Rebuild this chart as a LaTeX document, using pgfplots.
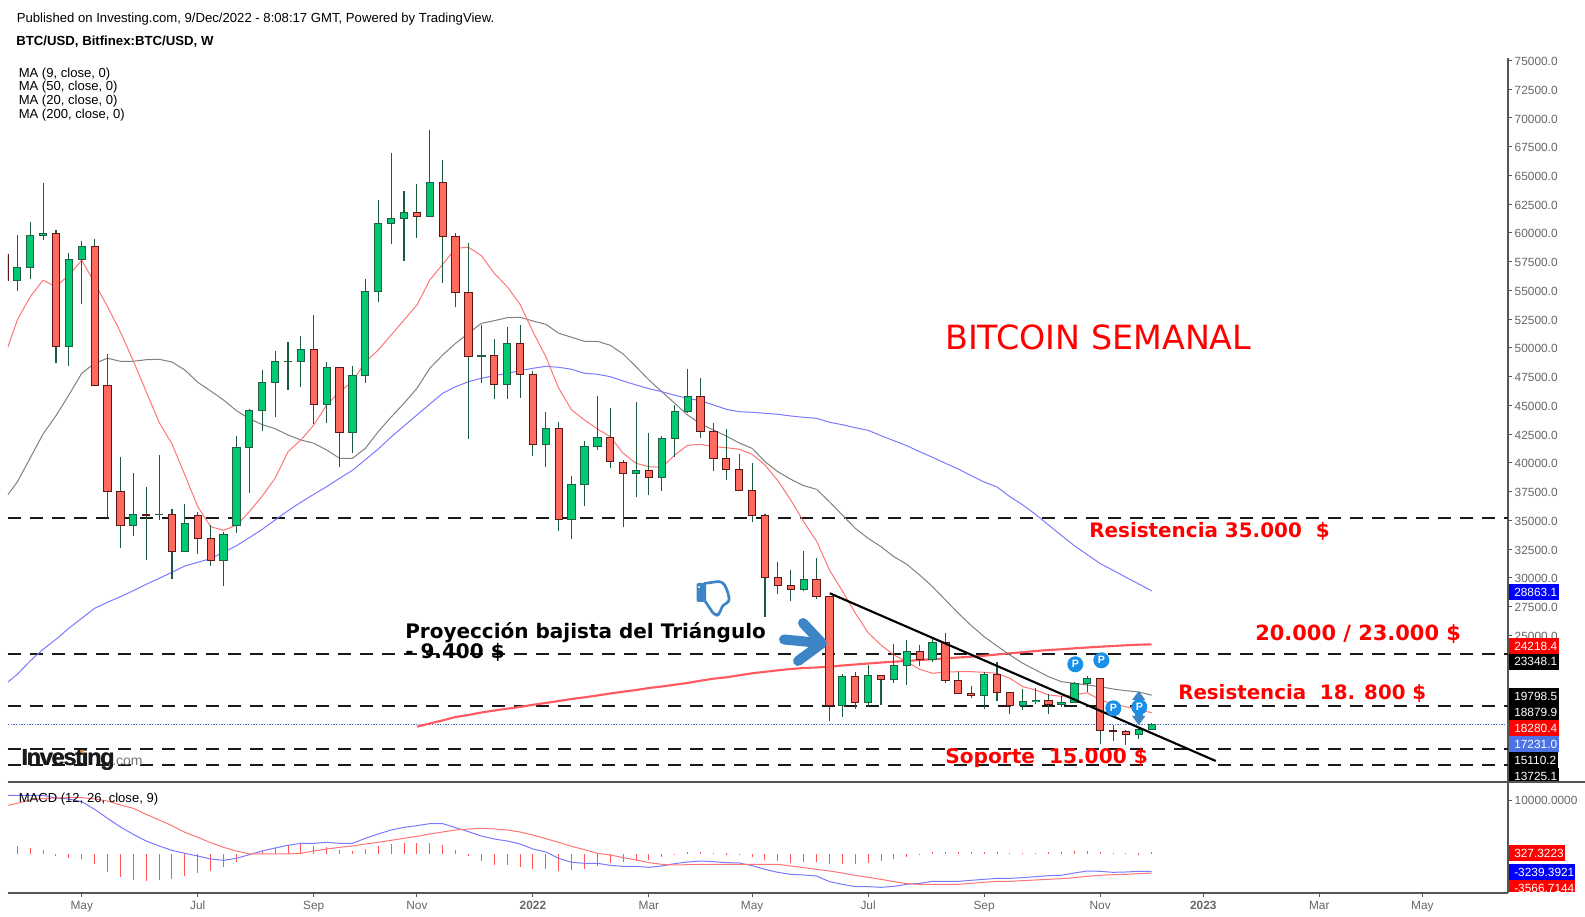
\documentclass[border=0pt]{standalone}
\usepackage{fontspec}
\setmainfont{Liberation Sans}
\newfontfamily\djv{DejaVu Sans}
\usepackage{pgfplots}
\usepackage{pgfplotstable}
\pgfplotsset{compat=1.18}
\definecolor{wick}{HTML}{1A5C3C}
\definecolor{gfill}{HTML}{00C972}
\definecolor{gedge}{HTML}{1F5F45}
\definecolor{rfill}{HTML}{FF6A5F}
\definecolor{redge}{HTML}{5E1616}
\definecolor{ma9}{HTML}{FF7575}
\definecolor{ma20}{HTML}{808080}
\definecolor{ma50}{HTML}{7A7AFF}
\definecolor{ma200}{HTML}{FF5A60}
\definecolor{tickg}{HTML}{666666}
\definecolor{axg}{HTML}{555555}
\definecolor{steel}{HTML}{3D85C6}
\definecolor{pblue}{HTML}{1A8FE8}
\definecolor{histc}{HTML}{FF5555}
\definecolor{lastblue}{HTML}{4D72E6}
\definecolor{dotblue}{HTML}{4669DC}
\pgfplotstableread{
t o h l c
0 55884 59824 54979 57014
1 57014 60954 56023 59798
2 59764 64347 59415 59972
4 50143 58232 48455 57710
5 57710 59276 53848 58841
9 34573 39096 33669 35530
11 35514 40688 35008 35548
13 32312 36426 32312 34748
16 31529 33991 29320 33791
17 34573 42315 33930 41358
18 41358 44663 37409 44576
19 44576 48081 42802 47012
20 47012 49734 44019 48838
21 48821 50543 46368 48855
22 48838 51039 46629 49882
24 45098 48777 43498 48316
26 42663 48429 40836 47620
27 47620 55971 46977 54927
28 54927 62868 54022 60841
29 60841 66956 59067 61276
30 61276 63651 57588 61798
32 61450 68957 61450 64408
36 49255 51995 46925 49325
38 46838 51822 45585 50404
41 41619 44428 39671 43011
43 35095 38862 33356 38140
44 38140 41880 36278 41445
45 41445 45820 41149 42228
48 39096 45298 37061 39357
50 38748 42315 37583 42141
51 42141 45037 40488 44489
52 44489 48168 44315 45794
61 29007 32338 28885 29877
64 18917 21639 17926 21439
66 19178 22422 18743 21526
68 21179 24249 20831 22396
69 22396 24597 20709 23614
71 22918 24745 22709 24397
75 19753 21839 18570 21613
78 18883 20309 18508 19266
79 19231 20396 19004 19353
81 18969 19699 18743 19178
82 19178 20955 19178 20781
83 20831 21439 20048 21265
87 16393 16949 16012 16829
88 16829 17375 16768 17231
}\greentable
\pgfplotstableread{
t o h l c
-1 58084 58519 55475 55910
3 59972 60259 48717 50143
6 58841 59476 46751 46751
7 46751 49473 35182 37531
8 37531 40514 32626 34573
10 35530 37905 31581 35486
12 35530 35991 29929 32312
14 35444 35704 32103 33442
15 33442 34573 31059 31529
23 49882 52865 43358 45098
25 48316 48316 39671 42663
31 61798 64260 59589 61450
33 64408 66347 55675 59711
34 59711 59972 53588 54840
35 54840 59102 42106 49273
37 49360 50778 45585 46838
39 50404 51995 45672 47707
40 47707 47968 40627 41619
42 43011 43532 34104 35095
46 42228 44776 39583 40140
47 40053 40253 34452 39096
49 39357 42602 37235 38748
53 45794 47386 42193 42749
54 42749 43445 39322 40401
55 40401 42924 38540 39444
56 39444 40749 37618 37618
57 37618 39966 34887 35443
58 35443 35556 26624 30050
59 30050 31355 28624 29355
60 29355 30685 28015 29007
62 29877 31703 28189 28398
63 28398 28398 17577 18917
65 21439 21813 18621 19178
67 21526 21526 18969 21179
70 23614 24162 22361 22918
72 24397 25206 20831 21092
73 21092 21813 19874 19961
74 19961 20596 19579 19753
76 21613 22709 19316 20048
77 20048 20048 18187 18883
80 19353 19900 18187 18969
84 21265 21265 15577 16744
85 16744 17177 15839 16683
86 16621 16768 15490 16360
}\redtable
\pgfplotstableread{
t ma9 ma20 ma50
-1 49212 36835 20683
0 52430 38340 21613
1 54457 40428 22771
2 55883 42515 23788
3 55327 44106 24658
4 56344 45907 25616
5 57623 47794 26485
6 55649 48664 27355
7 53587 49099 27876
8 51387 48838 28363
9 48864 48838 28885
10 46194 48977 29442
11 43532 49012 29963
12 41645 48777 30485
13 38948 48081 31034
14 36191 47012 31355
15 34452 46256 31669
16 34139 45472 32226
17 34573 44541 32799
18 35756 43846 33495
19 37122 43325 34225
20 38661 42977 35034
21 40975 42428 35844
22 41993 41993 36574
23 43297 41706 37270
24 45037 41123 37931
25 46194 40401 38661
26 47064 40401 39357
27 48803 41271 40279
28 49821 42715 41210
29 51126 43993 42254
30 52430 45185 43211
31 53735 46490 44167
32 55910 48230 45125
33 57275 49386 46055
34 58667 50404 46629
35 58754 51274 47064
36 58023 52144 47360
37 56492 52370 47586
38 55327 52630 47794
39 53796 52665 48020
40 51412 52344 48230
41 49238 52056 48403
42 46489 51274 48316
43 44602 50926 48143
44 43732 50577 47794
45 42950 50577 47707
46 42280 50229 47499
47 40836 49473 47124
48 39966 48368 46777
49 39671 47211 46455
50 39619 46194 46194
51 40688 45185 45881
52 41532 44167 45620
53 41619 43385 45411
54 41410 42862 45037
55 41323 42340 44663
56 41184 41732 44454
57 40749 41271 44402
58 39818 40105 44315
59 38453 39235 44228
60 36774 38574 44081
61 34887 38020 43967
62 33195 37705 43880
63 30685 36627 43532
64 28876 35470 43325
65 26945 34313 43063
66 25233 33443 42836
67 24162 32713 42367
68 23293 31843 41932
69 22709 31181 41497
70 22048 30250 40975
71 21700 29233 40488
72 21813 28076 39966
73 21839 26919 39470
74 21839 25857 38888
75 21787 24884 38340
76 21700 24075 37905
77 21265 23293 37061
78 20535 22570 36339
79 20248 21987 35513
80 19813 21404 34600
81 19699 20969 33686
82 19813 20831 32799
83 20013 20683 32017
84 19378 20535 31249
85 19031 20335 30660
86 18796 20187 30050
87 18508 20074 29468
88 18280 19798 28863
}\matable
\pgfplotstableread{
t ma200
31 17057
32 17334
33 17604
34 17900
35 18074
36 18291
37 18465
38 18622
39 18770
40 18961
41 19118
42 19292
43 19466
44 19613
45 19770
46 19944
47 20100
48 20248
49 20422
50 20552
51 20709
52 20857
53 21057
54 21231
55 21352
56 21526
57 21700
58 21830
59 21961
60 22074
61 22161
62 22204
63 22274
64 22378
65 22465
66 22552
67 22639
68 22709
69 22770
70 22857
71 22927
72 22987
73 23074
74 23144
75 23231
76 23335
77 23440
78 23535
79 23640
80 23727
81 23787
82 23874
83 23944
84 24014
85 24075
86 24136
87 24188
88 24218
}\malong
\pgfplotstableread{
t m s h
-1 10996 8995 0
0 10996 9505 1500
1 10996 10131 1125
2 10996 10381 750
3 10506 10506 -300
4 10318 10568 -750
5 9818 10568 -940
6 8380 10318 -1810
7 6691 9943 -3375
8 5066 9193 -4250
9 3690 8567 -4810
10 2440 7442 -5060
11 1502 6379 -4875
12 689 5316 -4690
13 126 4065 -4060
14 -374 3127 -3500
15 -937 2127 -3125
16 -1187 1251 -2375
17 -812 564 -1440
18 -124 0 -100
19 564 0 560
20 1126 0 1060
21 1626 0 1625
22 2002 126 2000
23 2002 564 1500
24 2189 939 1250
25 2002 1251 750
26 2002 1502 560
27 2940 1877 940
28 3753 2189 1560
29 4503 2565 1875
30 5003 2940 2060
31 5316 3315 2060
32 5691 3753 2060
33 5691 4128 1690
34 4941 4503 750
35 4191 4691 -200
36 3377 4816 -1310
37 2815 4691 -2060
38 2440 4503 -2060
39 1877 4128 -2440
40 939 3565 -2810
41 376 2877 -2810
42 -812 2189 -3190
43 -1562 1439 -3000
44 -1750 813 -2750
45 -1750 125 -2190
46 -2126 -187 -1750
47 -2313 -687 -1560
48 -2313 -1125 -1250
49 -2501 -1625 -1060
50 -2251 -1938 -500
51 -1813 -2063 60
52 -1500 -2001 440
53 -1313 -1938 440
54 -1438 -1938 250
55 -1625 -1938 100
56 -1688 -1938 -60
57 -2188 -1938 -500
58 -2876 -1938 -1060
59 -3439 -1938 -1375
60 -3814 -2251 -1750
61 -3939 -2563 -1560
62 -4127 -2876 -1560
63 -5190 -3189 -1940
64 -5690 -3564 -1940
65 -6128 -4001 -1940
66 -6128 -4377 -1750
67 -6253 -4752 -1375
68 -6065 -5190 -1000
69 -5690 -5565 -500
70 -5502 -5690 -50
71 -5127 -5690 440
72 -5127 -5690 440
73 -5127 -5690 440
74 -4939 -5502 440
75 -4752 -5315 440
76 -4564 -5127 440
77 -4564 -5127 190
78 -4439 -5002 190
79 -4252 -4877 250
80 -4064 -4752 440
81 -4001 -4627 440
82 -3564 -4439 600
83 -3189 -4189 600
84 -3251 -4001 440
85 -3439 -3876 190
86 -3376 -3814 250
87 -3251 -3689 100
88 -3239 -3567 327
}\macdtable
\newcommand{\candles}[3]{%
  \addplot[draw=none, no markers, error bars/.cd, y dir=both, y explicit, error mark=none, error bar style={draw=wick, line width=0.8pt}]
    table[x=t, y expr=(\thisrow{h}+\thisrow{l})/2,
      y error plus expr=(\thisrow{h}-\thisrow{l})/2,
      y error minus expr=(\thisrow{h}-\thisrow{l})/2] {#1};
  \addplot[draw=none, no markers, error bars/.cd, y dir=both, y explicit, error mark=none, error bar style={draw=#3, line width=6.2pt}]
    table[x=t, y expr=(\thisrow{o}+\thisrow{c})/2,
      y error plus expr=abs(\thisrow{o}-\thisrow{c})/2+45,
      y error minus expr=abs(\thisrow{o}-\thisrow{c})/2+45] {#1};
  \addplot[draw=none, no markers, error bars/.cd, y dir=both, y explicit, error mark=none, error bar style={draw=#2, line width=4.7pt}]
    table[x=t, y expr=(\thisrow{o}+\thisrow{c})/2,
      y error plus expr={max(abs(\thisrow{o}-\thisrow{c})/2-45,0)},
      y error minus expr={max(abs(\thisrow{o}-\thisrow{c})/2-45,0)}] {#1};
}
\newcommand{\pricetag}[4]{%
  \fill[#3] (1508.5,#1-8) rectangle (#2,#1+8);
  \node[anchor=west, text=white, inner sep=0pt, font=\fontsize{8.9}{10}\selectfont] at (1514,#1) {#4};
}
\newcommand{\redbd}[4]{%
  \node[anchor=west, inner sep=0pt, text=red, font=\djv\bfseries\fontsize{#4}{18}\selectfont] at (#1,#2) {#3};
}
\newcommand{\pin}[2]{%
  \fill[pblue] (#1,#2) circle (8);
  \node[text=white, inner sep=0pt, font=\bfseries\fontsize{8}{9}\selectfont] at (#1,#2) {P};
}
\begin{document}
\begin{tikzpicture}
\path[use as bounding box] (0,0) rectangle (1188.75pt,687.75pt);
\begin{axis}[
  name=main, at={(6pt,101.25pt)}, anchor=south west, scale only axis,
  width=1125pt, height=543pt,
  xmin=-0.721, xmax=115.64, ymin=12246, ymax=75219,
  axis x line*=bottom, axis y line*=right,
  axis line style={axg, line width=0.8pt},
  xtick=\empty,
  ytick={25000,27500,...,75000},
  tick align=outside, major tick length=3pt,
  tick style={axg, line width=0.75pt},
  scaled y ticks=false,
  tick label style={text=tickg, font=\fontsize{8.9}{10}\selectfont},
  yticklabel style={xshift=-1.5pt, yshift=-0.7pt, /pgf/number format/.cd, fixed, fixed zerofill, precision=1, 1000 sep={}, assume math mode=true},
]
\addplot[black!90, line width=1.5pt, dash pattern=on 9.4pt off 7.1pt] coordinates {(-0.721,35182.1) (115.64,35182.1)};
\addplot[black!90, line width=1.5pt, dash pattern=on 9.4pt off 7.1pt] coordinates {(-0.721,23348.1) (115.64,23348.1)};
\addplot[black!90, line width=1.5pt, dash pattern=on 9.4pt off 7.1pt] coordinates {(-0.721,18879.9) (115.64,18879.9)};
\addplot[black!90, line width=1.5pt, dash pattern=on 9.4pt off 7.1pt] coordinates {(-0.721,15110.2) (115.64,15110.2)};
\addplot[black!90, line width=1.5pt, dash pattern=on 9.4pt off 7.1pt] coordinates {(-0.721,13725.1) (115.64,13725.1)};
\addplot[dotblue, line width=0.75pt, dash pattern=on 1pt off 1pt] coordinates {(-0.721,17231) (115.64,17231)};
\addplot[ma200, line width=1.6pt] table[x=t,y=ma200] {\malong};
\addplot[ma20, line width=0.75pt] table[x=t,y=ma20] {\matable};
\addplot[ma50, line width=0.75pt] table[x=t,y=ma50] {\matable};
\addplot[ma9, line width=0.75pt] table[x=t,y=ma9] {\matable};
\candles{\greentable}{gfill}{gedge}
\candles{\redtable}{rfill}{redge}
\addplot[black, line width=1.6pt] coordinates {(63.03,28659) (92.97,14073)};
\end{axis}
\begin{axis}[
  name=macd, at={(6pt,18pt)}, anchor=south west, scale only axis,
  width=1125pt, height=83.25pt,
  xmin=-0.721, xmax=115.64, ymin=-7316, ymax=13507,
  axis x line*=bottom, axis y line*=right,
  axis line style={axg, line width=0.8pt},
  xtick={5,14,23,31,40,49,57,66,75,84,92,101,109},
  xticklabels={May,Jul,Sep,Nov,\textbf{2022},Mar,May,Jul,Sep,Nov,\textbf{2023},Mar,May},
  ytick={10000},
  tick align=outside, major tick length=3pt,
  tick style={axg, line width=0.75pt},
  scaled y ticks=false,
  tick label style={text=tickg, font=\fontsize{8.9}{10}\selectfont},
  yticklabel style={xshift=-1.5pt, /pgf/number format/.cd, fixed, fixed zerofill, precision=4, 1000 sep={}, assume math mode=true},
  xticklabel style={yshift=0.5pt},
]
\addplot[draw=none, no markers, error bars/.cd, y dir=both, y explicit, error mark=none, error bar style={draw=histc, line width=0.75pt}]
  table[x=t, y expr=\thisrow{h}/2, y error plus expr=abs(\thisrow{h})/2, y error minus expr=abs(\thisrow{h})/2] {\macdtable};
\addplot[ma50, line width=0.75pt] table[x=t,y=m] {\macdtable};
\addplot[ma9, line width=0.75pt] table[x=t,y=s] {\macdtable};
\end{axis}
\begin{scope}[x=0.75pt, y=-0.75pt, yshift=687.75pt]
\draw[axg, line width=0.8pt] (1508,782) -- (1585,782);
\node[anchor=west, inner sep=0pt, font=\fontsize{9.85}{10}\selectfont] at (16.5,19.2) {Published on Investing.com, 9/Dec/2022 - 8:08:17 GMT, Powered by TradingView.};
\node[anchor=west, inner sep=0pt, font=\bfseries\fontsize{9.9}{10}\selectfont] at (16,42) {BTC/USD, Bitfinex:BTC/USD, W};
\node[anchor=west, inner sep=0pt, font=\fontsize{9.8}{10}\selectfont] at (18.5,74) {MA (9, close, 0)};
\node[anchor=west, inner sep=0pt, font=\fontsize{9.8}{10}\selectfont] at (18.5,87.5) {MA (50, close, 0)};
\node[anchor=west, inner sep=0pt, font=\fontsize{9.8}{10}\selectfont] at (18.5,101.3) {MA (20, close, 0)};
\node[anchor=west, inner sep=0pt, font=\fontsize{9.8}{10}\selectfont] at (18.5,115.3) {MA (200, close, 0)};
\node[anchor=west, inner sep=0pt, font=\fontsize{9.8}{10}\selectfont] at (18.5,799.3) {MACD (12, 26, close, 9)};
\node[anchor=base west, inner sep=0pt, text=black!90] at (21,765.5) {\fontsize{17.5}{18}\selectfont\bfseries\addfontfeatures{LetterSpace=-5}Investing};
\node[anchor=base west, inner sep=0pt, text=black!90] at (21.6,765.5) {\fontsize{17.5}{18}\selectfont\bfseries\addfontfeatures{LetterSpace=-5}Investing};
\node[anchor=base west, inner sep=0pt, text=black!55] at (112,765.5) {\fontsize{10.5}{12}\selectfont .com};
\fill[orange] (82,751.5) circle (1.6);
\node[anchor=west, inner sep=0pt, text=red, font=\djv\fontsize{25}{28}\selectfont] at (945,337) {BITCOIN SEMANAL};
\node[anchor=west, inner sep=0pt, text=black, font=\djv\bfseries\fontsize{15}{18}\selectfont] at (405,633) {Proyección bajista del Triángulo};
\node[anchor=west, inner sep=0pt, text=black, font=\djv\bfseries\fontsize{15}{18}\selectfont] at (405,652.5) {- 9.400 \$};
\redbd{1089}{531}{Resistencia 35.000\ \ \$}{14.95}
\redbd{1255}{634}{20.000 / 23.000 \$}{15.7}
\redbd{1178}{693}{Resistencia\ \ 18. 800 \$}{14.85}
\redbd{945}{758}{Soporte\ \ 15.000 \$}{15.1}
\draw[steel, line width=7.5pt, line cap=round, line join=round] (784,639.5) -- (820,643);
\draw[steel, line width=7.5pt, line cap=round, line join=round] (803,623) -- (822,643.3) -- (798,661);
\fill[steel, rounded corners=1.5] (696.5,583) rectangle (706,602);
\draw[steel, line width=2pt, line join=round, rounded corners=3] (704,583.5) -- (722,581) -- (727,589) -- (730,602) -- (722,605) -- (720,614) -- (715,616) -- (705,601);
\fill[white] (699,587) circle (1.2);
\fill[steel] (1132,700) -- (1138.7,691) -- (1145.4,700) -- cycle;
\fill[steel] (1134.5,699) rectangle (1143,703);
\fill[steel] (1132,716) -- (1138.7,725) -- (1145.4,716) -- cycle;
\fill[steel] (1134.5,711) rectangle (1143,717);
\pin{1075.3}{664.3}
\pin{1101.3}{660.3}
\pin{1113.3}{708.3}
\pin{1139.3}{707}
\pricetag{592}{1559}{blue}{28863.1}
\pricetag{646}{1559}{red}{24218.4}
\pricetag{661.7}{1559}{black}{23348.1}
\pricetag{696}{1559}{black}{19798.5}
\pricetag{712}{1559}{black}{18879.9}
\pricetag{728.3}{1559}{red}{18280.4}
\pricetag{744}{1559}{lastblue}{17231.0}
\pricetag{760}{1558}{black}{15110.2}
\fill[black] (1508.5,768) rectangle (1559,781.5);
\node[anchor=west, text=white, inner sep=0pt, font=\fontsize{8.9}{10}\selectfont] at (1514,776) {13725.1};
\pricetag{853.3}{1565}{red}{327.3223}
\pricetag{872}{1575}{blue}{-3239.3921}
\fill[red] (1508.5,880.5) rectangle (1575,892.5);
\node[anchor=west, text=white, inner sep=0pt, font=\fontsize{8.9}{10}\selectfont] at (1514,888.3) {-3566.7144};
\end{scope}
\end{tikzpicture}
\end{document}
